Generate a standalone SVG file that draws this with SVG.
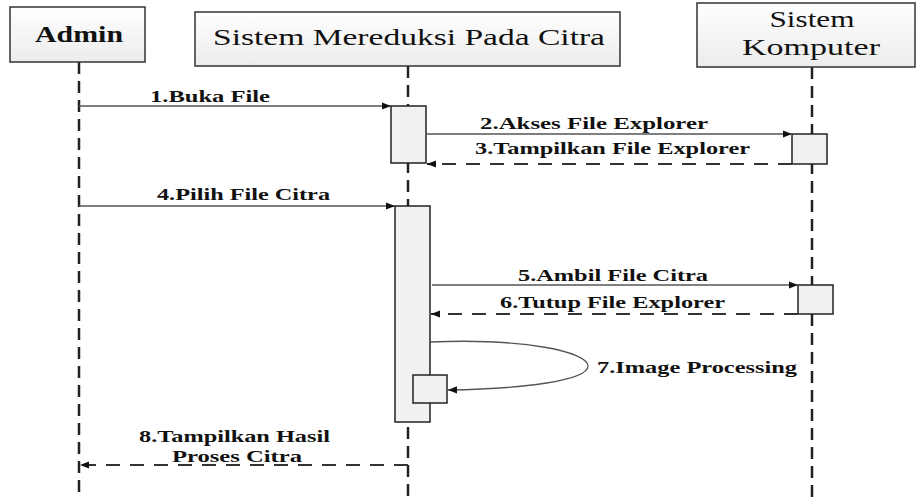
<svg xmlns="http://www.w3.org/2000/svg" width="917" height="499" viewBox="0 0 917 499">
  <style>
    .hdr { fill: url(#hdrFill); stroke: #333; stroke-width: 1.5; }
    .act { fill: #f1f1f1; stroke: #222; stroke-width: 1.5; }
    .life { stroke: #222; stroke-width: 2.5; stroke-dasharray: 12 7; fill: none; }
    .msg { stroke: #555; stroke-width: 1.3; fill: none; marker-end: url(#arrow); }
    .ret { stroke: #333; stroke-width: 2; stroke-dasharray: 14 10; fill: none; marker-end: url(#arrow); }
    text { font-family: "Liberation Serif", "Times New Roman", serif; fill: #111; }
    .title { font-size: 23px; }
    .lbl { font-size: 16px; font-weight: bold; }
  </style>
  <defs>
    <linearGradient id="hdrFill" x1="0" y1="0" x2="0" y2="1">
      <stop offset="0" stop-color="#ffffff"/>
      <stop offset="1" stop-color="#ececec"/>
    </linearGradient>
    <marker id="arrow" viewBox="0 0 10 10" refX="10" refY="5" markerWidth="9" markerHeight="9" markerUnits="userSpaceOnUse" orient="auto">
      <path d="M0,1 L10,5 L0,9 z" fill="#111"/>
    </marker>
  </defs>

  <rect width="917" height="499" fill="#ffffff"/>

  <!-- lifelines -->
  <g id="lifelines">
    <line class="life" x1="79" y1="62" x2="79" y2="499"/>
    <line class="life" x1="408" y1="66" x2="408" y2="499"/>
    <line class="life" x1="812" y1="67" x2="812" y2="499"/>
  </g>

  <!-- participants -->
  <g id="admin">
    <rect class="hdr" x="10" y="7" width="135" height="55"/>
    <text class="title" x="79" y="42" text-anchor="middle" font-weight="bold" textLength="88" lengthAdjust="spacingAndGlyphs">Admin</text>
  </g>
  <g id="sistem-mereduksi">
    <rect class="hdr" x="195" y="12" width="425" height="54"/>
    <text class="title" x="409" y="45" text-anchor="middle" textLength="392" lengthAdjust="spacingAndGlyphs">Sistem Mereduksi Pada Citra</text>
  </g>
  <g id="sistem-komputer">
    <rect class="hdr" x="697" y="3" width="218" height="64"/>
    <text class="title" x="812" y="27" text-anchor="middle" textLength="85" lengthAdjust="spacingAndGlyphs">Sistem</text>
    <text class="title" x="811" y="55" text-anchor="middle" textLength="138" lengthAdjust="spacingAndGlyphs">Komputer</text>
  </g>

  <!-- activation bars -->
  <g id="activations">
    <rect class="act" x="391" y="106" width="35" height="57"/>
    <rect class="act" x="395" y="206" width="35" height="216"/>
    <rect class="act" x="792" y="134" width="35" height="30"/>
    <rect class="act" x="798" y="285" width="35" height="29"/>
    <rect class="act" x="413" y="375" width="34" height="28"/>
  </g>

  <!-- messages -->
  <g id="connectors">
    <line class="msg" x1="79" y1="106" x2="391" y2="106"/>
    <line class="msg" x1="426" y1="134" x2="792" y2="134"/>
    <line class="ret" x1="792" y1="164" x2="427" y2="164"/>
    <line class="msg" x1="79" y1="206" x2="395" y2="206"/>
    <line class="msg" x1="432" y1="285" x2="798" y2="285"/>
    <line class="ret" x1="798" y1="314" x2="431" y2="314"/>
    <path class="msg" d="M430,342 C525,338 588,352 588,366 C588,381 520,389 448,390"/>
    <line class="ret" x1="408" y1="465" x2="80" y2="465"/>
  </g>

  <!-- message labels -->
  <g id="labels">
    <text class="lbl" x="150" y="102" textLength="120" lengthAdjust="spacingAndGlyphs">1.Buka File</text>
    <text class="lbl" x="480" y="129" textLength="228" lengthAdjust="spacingAndGlyphs">2.Akses File Explorer</text>
    <text class="lbl" x="475" y="154" textLength="275" lengthAdjust="spacingAndGlyphs">3.Tampilkan File Explorer</text>
    <text class="lbl" x="157" y="200" textLength="173" lengthAdjust="spacingAndGlyphs">4.Pilih File Citra</text>
    <text class="lbl" x="518" y="281" textLength="190" lengthAdjust="spacingAndGlyphs">5.Ambil File Citra</text>
    <text class="lbl" x="500" y="308" textLength="225" lengthAdjust="spacingAndGlyphs">6.Tutup File Explorer</text>
    <text class="lbl" x="597" y="373" textLength="200" lengthAdjust="spacingAndGlyphs">7.Image Processing</text>
    <text class="lbl" x="139" y="442" textLength="191" lengthAdjust="spacingAndGlyphs">8.Tampilkan Hasil</text>
    <text class="lbl" x="172" y="462" textLength="130" lengthAdjust="spacingAndGlyphs">Proses Citra</text>
  </g>
</svg>
